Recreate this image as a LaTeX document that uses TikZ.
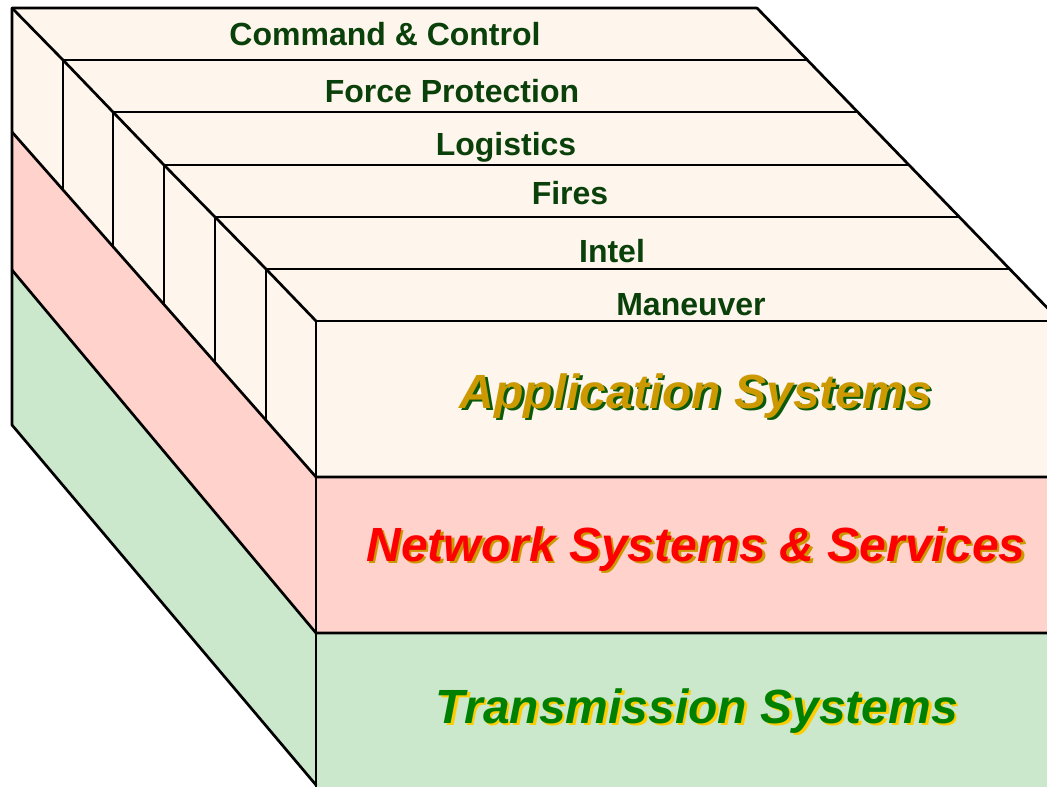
\documentclass[tikz,border=0pt]{standalone}
\usepackage{fontspec}
\setmainfont{Liberation Sans}
\definecolor{appfill}{HTML}{FEF5EC}
\definecolor{netfill}{HTML}{FFD2CC}
\definecolor{txfill}{HTML}{CCE8CC}
\definecolor{tiergreen}{HTML}{0A400A}
\definecolor{appgold}{HTML}{CC9900}
\definecolor{appshade}{HTML}{0A5A0A}
\definecolor{netred}{HTML}{FF0000}
\definecolor{netshade}{HTML}{CC9900}
\definecolor{txgreen}{HTML}{008000}
\definecolor{txshade}{HTML}{FFCC00}
\tikzset{
	edge/.style={line width=2.7pt},
	tier/.style={font=\bfseries\fontsize{32}{36}\selectfont, text=tiergreen, inner sep=0pt, anchor=base},
	layer/.style={font=\bfseries\itshape\fontsize{48}{54}\selectfont, inner sep=0pt, anchor=base}
}
\begin{document}
\begin{tikzpicture}[x=1pt, y=-1pt, line join=round, line cap=round]
	\useasboundingbox (0,0) rectangle (1047,787);
	\clip (0,0) rectangle (1047,787);
	\path 
	(12,8) coordinate (L0) (63,60) coordinate (L1) (113,112) coordinate (L2)
	(164,165) coordinate (L3) (215,217) coordinate (L4) (266,269) coordinate (L5)
	(316,321) coordinate (L6)
	(757,8) coordinate (R0) (807,60) coordinate (R1) (857,112) coordinate (R2)
	(908,165) coordinate (R3) (959,217) coordinate (R4) (1009,269) coordinate (R5)
	(1060,321) coordinate (R6)
	(12,132) coordinate (P) (12,270) coordinate (G) (12,425) coordinate (B)
	(316,477) coordinate (FP) (316,633) coordinate (FG) (316,785) coordinate (FB)
		;
	% the three layers, side and front
	\fill[appfill] (L0)--(R0)--(R6)--(1100,321)--(1100,477)--(FP)--(P)--cycle;
	\fill[netfill] (P)--(FP)--(1100,477)--(1100,633)--(FG)--(G)--cycle;
	\fill[txfill] (G)--(FG)--(1100,633)--(1100,800)--(316,800)--(FB)--(B)--cycle;
	% outline and stair steps
	\draw[edge] (R0)--(L0)--(B)--(FB);
	\draw[edge] (L0)--(L1)--(L2)--(L3)--(L4)--(L5)--(L6);
	\draw[edge] (R0)--(R6);
	\foreach \i in {1,...,5} \draw[edge] (L\i)--(R\i);
	\draw[edge] (L6)--(1100,321);
	\foreach \i/\yb in {1/190,2/247,3/304,4/362,5/420} \draw[edge] (L\i)--(L\i |- 0,\yb);
	\draw[edge] (L6)--(316,800);
	\draw[edge] (P)--(FP)--(1100,477);
	\draw[edge] (G)--(FG)--(1100,633);
	% application tiers
	\node[tier] (cc) at (385,45) {Command \& Control};
	\node[tier] (fp) at (452,102) {Force Protection};
	\node[tier] (log) at (506,155) {Logistics};
	\node[tier] (fire) at (570,204) {Fires};
	\node[tier] (intel) at (612,262) {Intel};
	\node[tier] (man) at (691,315) {Maneuver};
	% layer names with drop shadow
	\node[layer, text=appshade] (appS) at (698.5,410.5) {Application Systems};
	\node[layer, text=appgold] (app) at (696,408) {Application Systems};
	\node[layer, text=netshade] (netS) at (698.5,563.5) {Network Systems \& Services};
	\node[layer, text=netred] (net) at (696,561) {Network Systems \& Services};
	\node[layer, text=txshade] (txS) at (699.5,725.5) {Transmission Systems};
	\node[layer, text=txgreen] (tx) at (697,723) {Transmission Systems};
\end{tikzpicture}
\end{document}
